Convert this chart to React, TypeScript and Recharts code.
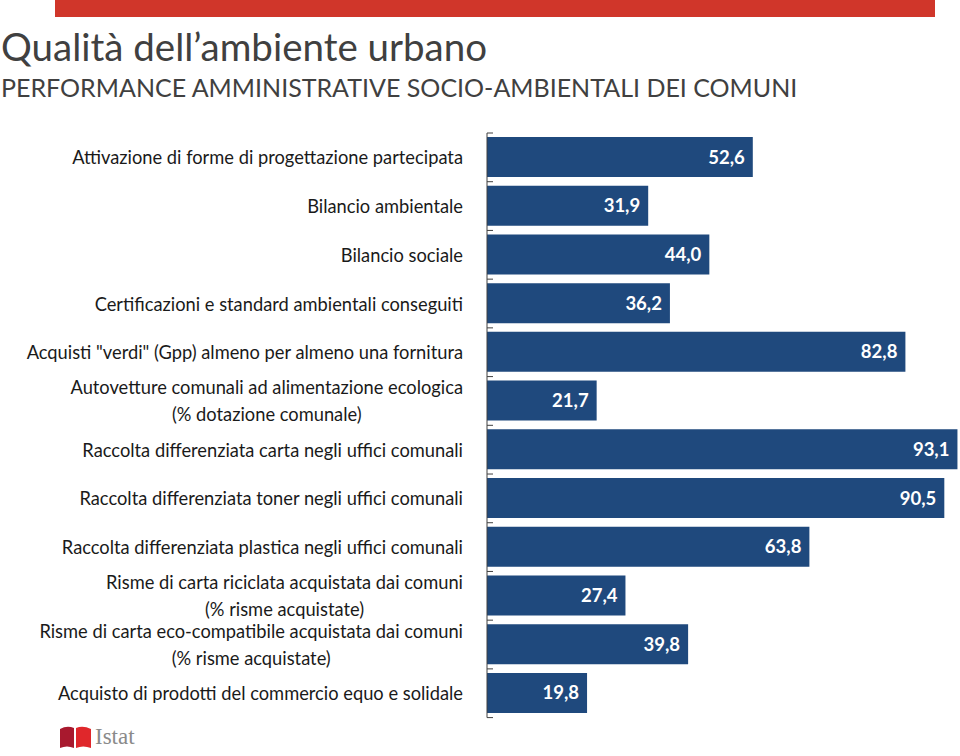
import React from 'react';
import { BarChart, Bar, XAxis, YAxis, LabelList } from 'recharts';

// ── Data ────────────────────────────────────────────────────────────────
const categories: string[] = [
  'Attivazione di forme di progettazione partecipata',
  'Bilancio ambientale',
  'Bilancio sociale',
  'Certificazioni e standard ambientali conseguiti',
  'Acquisti "verdi" (Gpp) almeno per almeno una fornitura',
  'Autovetture comunali ad alimentazione ecologica\n(% dotazione comunale)',
  'Raccolta differenziata carta negli uffici comunali',
  'Raccolta differenziata toner negli uffici comunali',
  'Raccolta differenziata plastica negli uffici comunali',
  'Risme di carta riciclata acquistata dai comuni\n(% risme acquistate)',
  'Risme di carta eco-compatibile acquistata dai comuni\n(% risme acquistate)',
  'Acquisto di prodotti del commercio equo e solidale',
];
const values: number[] = [52.6, 31.9, 44.0, 36.2, 82.8, 21.7, 93.1, 90.5, 63.8, 27.4, 39.8, 19.8];

const data = categories.map((name, i) => ({ name, value: values[i] }));

const BAR = '#1F497D';
const AXIS = '#404040';
const FONT = 'Lato, "Open Sans", sans-serif';
const LABEL_PX = 18.3;

// ── text measuring for centred two-line labels ──────────────────────────
const ctx = typeof document !== 'undefined' ? document.createElement('canvas').getContext('2d') : null;
function textWidth(s: string): number {
  if (!ctx) return s.length * 8;
  ctx.font = `${LABEL_PX}px ${FONT}`;
  return ctx.measureText(s).width;
}

// ── Category tick: label + Excel-style boundary tick marks ──────────────
// eslint-disable-next-line @typescript-eslint/no-explicit-any
const CatTick = ({ x, y, payload, index }: any) => {
  const lines = String(payload.value).split('\n');
  const half = payload.offset || 24.33;
  const axisX = x + 24;
  const blockW = Math.max(...lines.map(textWidth));
  const multi = lines.length > 1;
  return (
    <g>
      <line x1={axisX} x2={axisX + 6} y1={y - half} y2={y - half} stroke={AXIS} strokeWidth={1} />
      {index === categories.length - 1 && (
        <line x1={axisX} x2={axisX + 6} y1={y + half} y2={y + half} stroke={AXIS} strokeWidth={1} />
      )}
      {lines.map((l, i) => (
        <text
          key={i}
          x={multi ? x - blockW / 2 : x}
          y={y + (multi ? (i === 0 ? -13.5 : 13.5) : 0)}
          textAnchor={multi ? 'middle' : 'end'}
          dominantBaseline="central"
          fill="#1a1a1a"
          fontSize={LABEL_PX}
          fontFamily={FONT}
        >
          {l}
        </text>
      ))}
    </g>
  );
};

const fmt = (v: number) => v.toFixed(1).replace('.', ',');

export default function App() {
  return (
    <div style={{ position: 'absolute', left: 0, top: 0, width: 960, height: 756, overflow: 'hidden', background: '#fff', fontFamily: FONT }}>
      {/* red band */}
      <div style={{ position: 'absolute', left: 55, top: 0, width: 880, height: 17, background: '#D0362A' }} />

      <div style={{ position: 'absolute', left: 1, top: 23, fontSize: 38.5, color: '#404040', whiteSpace: 'nowrap' }}>
        Qualità dell’ambiente urbano
      </div>
      <div style={{ position: 'absolute', left: 1, top: 72, fontSize: 25, color: '#404040', whiteSpace: 'nowrap' }}>
        PERFORMANCE AMMINISTRATIVE SOCIO-AMBIENTALI DEI COMUNI
      </div>

      <div style={{ position: 'absolute', left: 0, top: 0 }}>
        <BarChart
          width={962}
          height={756}
          layout="vertical"
          data={data}
          margin={{ top: 133, right: 0, bottom: 38.4, left: 0 }}
          barSize={40}
        >
          <XAxis type="number" domain={[0, 94]} hide />
          <YAxis
            type="category"
            dataKey="name"
            width={487}
            interval={0}
            tickSize={0}
            tickMargin={24}
            tickLine={false}
            axisLine={{ stroke: AXIS, strokeWidth: 1 }}
            tick={<CatTick />}
          />
          <Bar dataKey="value" fill={BAR} isAnimationActive={false}>
            <LabelList
              dataKey="value"
              position="insideRight"
              offset={8}
              formatter={(v: any) => fmt(Number(v))}
              fill="#ffffff"
              fontSize={18.5}
              fontWeight={700}
              fontFamily={FONT}
            />
          </Bar>
        </BarChart>
      </div>

      {/* Istat logo */}
      <div style={{ position: 'absolute', left: 59, top: 725, display: 'flex', alignItems: 'flex-end' }}>
        <svg width={34} height={24}>
          <path d="M1 4 Q8 0 15 3 L15 23 Q8 20 1 23 Z" fill="#A8192E" />
          <path d="M17 3 Q24 0 32 4 L32 23 Q24 20 17 23 Z" fill="#E0272B" />
        </svg>
        <span style={{ fontFamily: '"Liberation Serif", serif', fontSize: 23, color: '#8a8a8a', marginLeft: 2, lineHeight: '24px' }}>Istat</span>
      </div>
    </div>
  );
}
